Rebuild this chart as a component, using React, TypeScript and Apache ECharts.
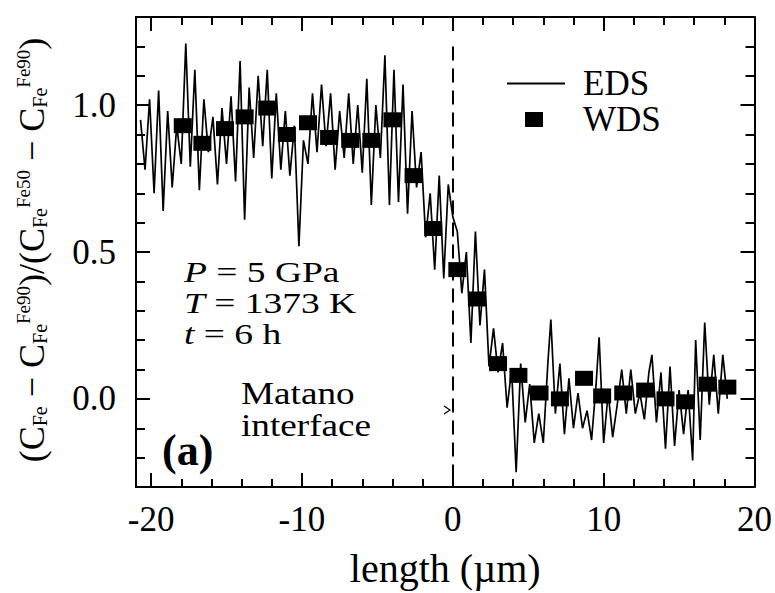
import React, { useEffect, useRef } from 'react';
import * as echarts from 'echarts';

const FONT = 'Liberation Serif, Times New Roman, serif';

// Axis tick / label positions
const xMajorTicks = [-20, -10, 0, 10, 20];
const xMinorTicks = [-18, -16, -14, -12, -8, -6, -4, -2, 2, 4, 6, 8, 12, 14, 16, 18];
const yMajorTicks = [0, 0.5, 1.0];
const yMinorTicks = [-0.2, -0.1, 0.1, 0.2, 0.3, 0.4, 0.6, 0.7, 0.8, 0.9, 1.1, 1.2];

// WDS measurements (length in µm, normalized concentration)
const wdsX = [-17.9, -16.6, -15.1, -13.8, -12.3, -11.0, -9.6, -8.2, -6.8, -5.4, -4.0, -2.6, -1.3, 0.3, 1.6, 3.0, 4.35, 5.75, 7.1, 8.7, 9.9, 11.3, 12.75, 14.1, 15.4, 16.9, 18.2];
const wdsY = [0.93, 0.87, 0.92, 0.96, 0.99, 0.90, 0.94, 0.89, 0.88, 0.88, 0.95, 0.76, 0.58, 0.44, 0.34, 0.12, 0.08, 0.02, 0.0, 0.07, 0.01, 0.02, 0.03, 0.0, -0.01, 0.05, 0.04];

// EDS trace (length in µm, normalized concentration)
const edsPoints = [
  [-20.7, 0.95], [-20.4, 0.78], [-20.1, 1.02], [-19.8, 0.70], [-19.5, 1.05], [-19.2, 0.64],
  [-18.9, 0.98], [-18.6, 0.72], [-18.3, 0.93], [-18.0, 0.80], [-17.7, 1.21], [-17.4, 0.79],
  [-17.1, 1.12], [-16.8, 0.71], [-16.5, 1.02], [-16.2, 0.84], [-15.9, 0.96], [-15.6, 0.73],
  [-15.3, 0.99], [-15.0, 0.80], [-14.7, 1.03], [-14.4, 0.74], [-14.1, 1.15], [-13.8, 0.61],
  [-13.5, 1.06], [-13.2, 0.82], [-12.9, 1.10], [-12.6, 0.86], [-12.3, 1.12], [-12.0, 0.75],
  [-11.7, 1.04], [-11.4, 0.78], [-11.1, 0.98], [-10.8, 0.76], [-10.5, 0.93], [-10.2, 0.52],
  [-9.9, 0.88], [-9.6, 0.80], [-9.3, 1.04], [-9.0, 0.84], [-8.7, 1.07], [-8.4, 0.86],
  [-8.1, 1.04], [-7.8, 0.78], [-7.5, 0.98], [-7.2, 0.82], [-6.9, 1.04], [-6.6, 0.80],
  [-6.3, 1.00], [-6.0, 0.77], [-5.7, 1.09], [-5.4, 0.66], [-5.1, 1.00], [-4.8, 0.82],
  [-4.5, 1.17], [-4.2, 0.66], [-3.9, 1.12], [-3.6, 0.67], [-3.3, 1.07], [-3.0, 0.63],
  [-2.7, 0.98], [-2.4, 0.72], [-2.1, 0.84], [-1.8, 0.55], [-1.5, 0.70], [-1.2, 0.44],
  [-0.9, 0.76], [-0.6, 0.41], [-0.3, 0.73], [0.0, 0.62], [0.3, 0.57], [0.6, 0.36],
  [0.9, 0.50], [1.2, 0.19], [1.5, 0.57], [1.8, 0.25], [2.1, 0.44], [2.4, 0.11],
  [2.7, 0.24], [3.0, 0.09], [3.3, 0.19], [3.6, -0.03], [3.9, 0.10], [4.2, -0.25],
  [4.5, 0.12], [4.8, -0.08], [5.1, 0.05], [5.4, -0.15], [5.7, -0.05], [6.0, -0.15],
  [6.3, 0.12], [6.5, 0.27], [6.8, -0.05], [7.1, 0.12], [7.4, -0.12], [7.7, 0.07],
  [8.0, -0.10], [8.3, 0.02], [8.6, -0.10], [8.9, -0.04], [9.2, -0.14], [9.5, 0.05],
  [9.7, 0.21], [10.0, -0.15], [10.3, 0.02], [10.6, -0.13], [10.9, -0.02], [11.2, 0.10],
  [11.5, -0.05], [11.8, 0.10], [12.1, -0.05], [12.4, 0.02], [12.7, -0.07], [13.0, 0.09],
  [13.2, 0.15], [13.5, -0.08], [13.8, 0.09], [14.1, -0.17], [14.4, 0.11], [14.7, -0.16],
  [15.0, 0.03], [15.3, -0.12], [15.6, 0.03], [15.9, -0.21], [16.1, 0.20], [16.4, -0.14],
  [16.7, 0.26], [17.0, -0.02], [17.3, 0.15], [17.6, -0.05], [17.9, 0.15], [18.2, 0.00],
];

const X_MIN = -21;
const X_MAX = 20;
const Y_MIN = -0.3;
const Y_MAX = 1.3;

const axisLineStyle = { color: '#000', width: 2 };

function xAxisDef(position: 'top' | 'bottom', ticks: number[], len: number, showLine: boolean, labels: boolean) {
  return {
    type: 'value',
    position,
    min: X_MIN,
    max: X_MAX,
    axisLine: { show: showLine, onZero: false, lineStyle: axisLineStyle },
    axisTick: { show: true, inside: true, length: len, customValues: ticks, lineStyle: { color: '#000', width: 2 } },
    axisLabel: labels
      ? { show: true, customValues: xMajorTicks, fontFamily: FONT, fontSize: 35, color: '#000', margin: 15, formatter: (v: number) => String(v) }
      : { show: false },
    splitLine: { show: false },
  };
}

function yAxisDef(position: 'left' | 'right', ticks: number[], len: number, showLine: boolean, labels: boolean) {
  return {
    type: 'value',
    position,
    min: Y_MIN,
    max: Y_MAX,
    axisLine: { show: showLine, onZero: false, lineStyle: axisLineStyle },
    axisTick: { show: true, inside: true, length: len, customValues: ticks, lineStyle: { color: '#000', width: 2 } },
    axisLabel: labels
      ? { show: true, customValues: yMajorTicks, fontFamily: FONT, fontSize: 35, color: '#000', margin: 20, formatter: (v: number) => v.toFixed(1) }
      : { show: false },
    splitLine: { show: false },
  };
}

export default function App() {
  const ref = useRef<HTMLDivElement>(null);

  useEffect(() => {
    if (!ref.current) return;
    const chart = echarts.init(ref.current, undefined, { renderer: 'svg' });

    const sub = { fontFamily: FONT, fontSize: 20, fill: '#000', verticalAlign: 'bottom' };
    const sup = { fontFamily: FONT, fontSize: 19, fill: '#000', verticalAlign: 'top' };
    const main = { fontFamily: FONT, fontSize: 36, fill: '#000' };
    const ital = { fontFamily: FONT, fontSize: 30, fill: '#000', fontStyle: 'italic', lineHeight: 31 };
    const norm = { fontFamily: FONT, fontSize: 30, fill: '#000', lineHeight: 31 };

    const option = {
      animation: false,
      backgroundColor: '#fff',
      textStyle: { fontFamily: FONT, color: '#000' },
      grid: { left: 136, right: 6, top: 17, bottom: 99, containLabel: false },
      xAxis: [
        { ...xAxisDef('bottom', xMajorTicks, 14, true, true), name: 'length (µm)', nameLocation: 'middle', nameGap: 61, nameTextStyle: { fontFamily: FONT, fontSize: 40, color: '#000' } },
        xAxisDef('bottom', xMinorTicks, 8, false, false),
        xAxisDef('top', xMajorTicks, 14, true, false),
        xAxisDef('top', xMinorTicks, 8, false, false),
      ],
      yAxis: [
        yAxisDef('left', yMajorTicks, 14, true, true),
        yAxisDef('left', yMinorTicks, 9, false, false),
        yAxisDef('right', yMajorTicks, 14, true, false),
        yAxisDef('right', yMinorTicks, 9, false, false),
      ],
      legend: [
        {
          data: [{ name: 'EDS', icon: 'rect' }],
          left: 502,
          top: 61,
          itemWidth: 58,
          itemHeight: 2,
          textStyle: { fontFamily: FONT, fontSize: 35, color: '#000', padding: [0, 0, 0, 13] },
        },
        {
          data: [{ name: 'WDS', icon: 'rect' }],
          left: 520,
          top: 97,
          itemWidth: 18,
          itemHeight: 15,
          textStyle: { fontFamily: FONT, fontSize: 35, color: '#000', padding: [0, 0, 0, 35] },
        },
      ],
      graphic: [
        {
          type: 'text',
          x: 32,
          y: 250,
          rotation: Math.PI / 2,
          style: {
            text: '{m|(C}{b|Fe}{m| − C}{b|Fe}{t|Fe90}{m|)/(C}{b|Fe}{t|Fe50}{m| − C}{b|Fe}{t|Fe90}{m|)}',
            align: 'center',
            verticalAlign: 'middle',
            fill: '#000',
            rich: { m: main, b: sub, t: sup },
          },
        },
        {
          type: 'text',
          x: 184,
          y: 303,
          scaleX: 1.25,
          style: {
            text: '{i|P}{n| = 5 GPa}\n{i|T}{n| = 1373 K}\n{i|t}{n| = 6 h}',
            align: 'left',
            verticalAlign: 'middle',
            lineHeight: 31,
            rich: { i: ital, n: norm },
          },
        },
        {
          type: 'text',
          x: 241,
          y: 409,
          scaleX: 1.2,
          style: {
            text: 'Matano\ninterface',
            align: 'left',
            verticalAlign: 'middle',
            fontFamily: FONT,
            fontSize: 31,
            lineHeight: 32,
            fill: '#000',
          },
        },
        { type: 'text', x: 162, y: 450, style: { text: '(a)', align: 'left', verticalAlign: 'middle', fontFamily: FONT, fontSize: 44, fontWeight: 'bold', fill: '#000' } },
        { type: 'polyline', shape: { points: [[444, 406], [450, 410], [444, 414]] }, style: { stroke: '#000', lineWidth: 1.2, fill: null } },
      ],
      series: [
        {
          name: 'EDS',
          type: 'line',
          xAxisIndex: 0,
          yAxisIndex: 0,
          data: edsPoints,
          symbol: 'none',
          showSymbol: false,
          lineStyle: { color: '#000', width: 1.7 },
          itemStyle: { color: '#000' },
          z: 2,
          markLine: {
            silent: true,
            symbol: ['none', 'none'],
            label: { show: false },
            lineStyle: { color: '#000', width: 2, type: [14, 8] },
            data: [[{ coord: [0, 1.2] }, { coord: [0, Y_MIN] }]],
          },
        },
        {
          name: 'WDS',
          type: 'scatter',
          xAxisIndex: 0,
          yAxisIndex: 0,
          data: wdsX.map((x, i) => [x, wdsY[i]]),
          symbol: 'rect',
          symbolSize: [18, 15],
          itemStyle: { color: '#000', opacity: 1 },
          z: 3,
        },
      ],
    };

    chart.setOption(option as any);
    return () => chart.dispose();
  }, []);

  return (
    <div
      ref={ref}
      style={{ position: 'absolute', left: 0, top: 0, width: 775, height: 593, background: '#fff' }}
    />
  );
}
